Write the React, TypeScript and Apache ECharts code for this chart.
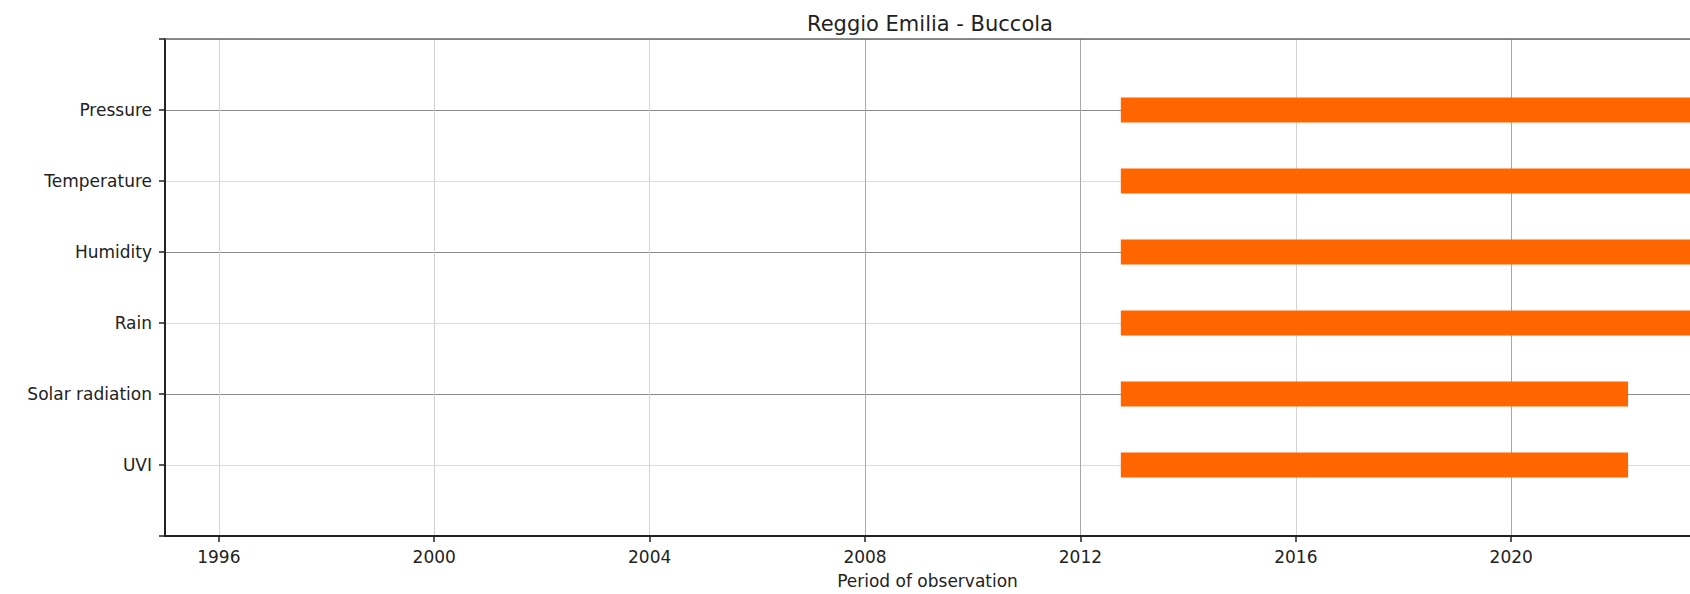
import React, { useEffect, useRef } from "react";
import * as echarts from "echarts";

const TITLE = "Reggio Emilia - Buccola";
const X_NAME = "Period of observation";
// index 0 is the bottom row
const variables = ["UVI", "Solar radiation", "Rain", "Humidity", "Temperature", "Pressure"];
const startYear = [2012.75, 2012.75, 2012.75, 2012.75, 2012.75, 2012.75];
const endYear = [2022.17, 2022.17, 2023.4, 2023.4, 2023.4, 2023.4];
const yearTicks = [1996, 2000, 2004, 2008, 2012, 2016, 2020];
const X_MIN = 1995;
const X_MAX = 2023.32;

const FONT = "DejaVu Sans";

export default function App() {
  const ref = useRef<HTMLDivElement>(null);
  useEffect(() => {
    if (!ref.current) return;
    const chart = echarts.init(ref.current, null, { renderer: "svg" });
    const data = variables.map((_, i) => [i, startYear[i], endYear[i]]);
    chart.setOption({
      animation: false,
      backgroundColor: "#ffffff",
      textStyle: { fontFamily: FONT },
      title: {
        text: TITLE,
        left: 802,
        top: 8,
        textStyle: { fontFamily: FONT, fontSize: 21, fontWeight: "normal", color: "#222" },
      },
      grid: { left: 165, right: 0, top: 39, bottom: 57, containLabel: false },
      xAxis: [
        {
          type: "value",
          min: X_MIN,
          max: X_MAX,
          name: X_NAME,
          nameLocation: "middle",
          nameGap: 36,
          nameTextStyle: { fontFamily: FONT, fontSize: 17, color: "#222" },
          axisLine: { show: true, onZero: false, lineStyle: { color: "#222", width: 2 } },
          axisTick: { show: true, length: 6, customValues: yearTicks, lineStyle: { color: "#222", width: 1.5 } },
          axisLabel: {
            customValues: yearTicks,
            fontFamily: FONT,
            fontSize: 17,
            color: "#222",
            margin: 12,
            formatter: (v: number) => String(Math.round(v)),
          },
          splitLine: {
            show: true,
            lineStyle: {
              color: ["#d4d4d4", "#cfcfcf", "#d4d4d4", "#ababab", "#a8a8a8", "#d4d4d4", "#a8a8a8"],
              width: 1,
            },
          },
        },
        {
          type: "value",
          position: "top",
          min: X_MIN,
          max: X_MAX,
          axisLine: { show: true, onZero: false, lineStyle: { color: "#666", width: 1.5 } },
          axisTick: { show: false },
          axisLabel: { show: false },
          splitLine: { show: false },
        },
      ],
      yAxis: {
        type: "value",
        min: -1,
        max: 6,
        interval: 1,
        axisLine: { show: true, onZero: false, lineStyle: { color: "#222", width: 2 } },
        axisTick: { show: true, length: 6, lineStyle: { color: "#222", width: 1.5 } },
        axisLabel: {
          fontFamily: FONT,
          fontSize: 17,
          color: "#222",
          margin: 13,
          formatter: (v: number) => variables[Math.round(v)] ?? "",
        },
        splitLine: {
          show: true,
          lineStyle: { color: ["#8a8a8a", "#dcdcdc"], width: 1 },
        },
      },
      series: [
        {
          type: "custom",
          xAxisIndex: 0,
          clip: true,
          encode: { x: [1, 2], y: 0 },
          data,
          renderItem: (params: any, api: any) => {
            const y = api.value(0);
            const p0 = api.coord([api.value(1), y]);
            const p1 = api.coord([api.value(2), y]);
            const h = api.size([0, 0.35])[1];
            const cs = params.coordSys;
            const shape = echarts.graphic.clipRectByRect(
              { x: p0[0], y: p0[1] - h / 2, width: p1[0] - p0[0], height: h },
              { x: cs.x, y: cs.y, width: cs.width, height: cs.height }
            );
            return shape ? { type: "rect", shape, style: { fill: "#ff6600" } } : null;
          },
        },
      ],
    });
    return () => chart.dispose();
  }, []);
  return (
    <div
      ref={ref}
      style={{ position: "absolute", left: 0, top: 0, width: 1690, height: 594 }}
    />
  );
}
